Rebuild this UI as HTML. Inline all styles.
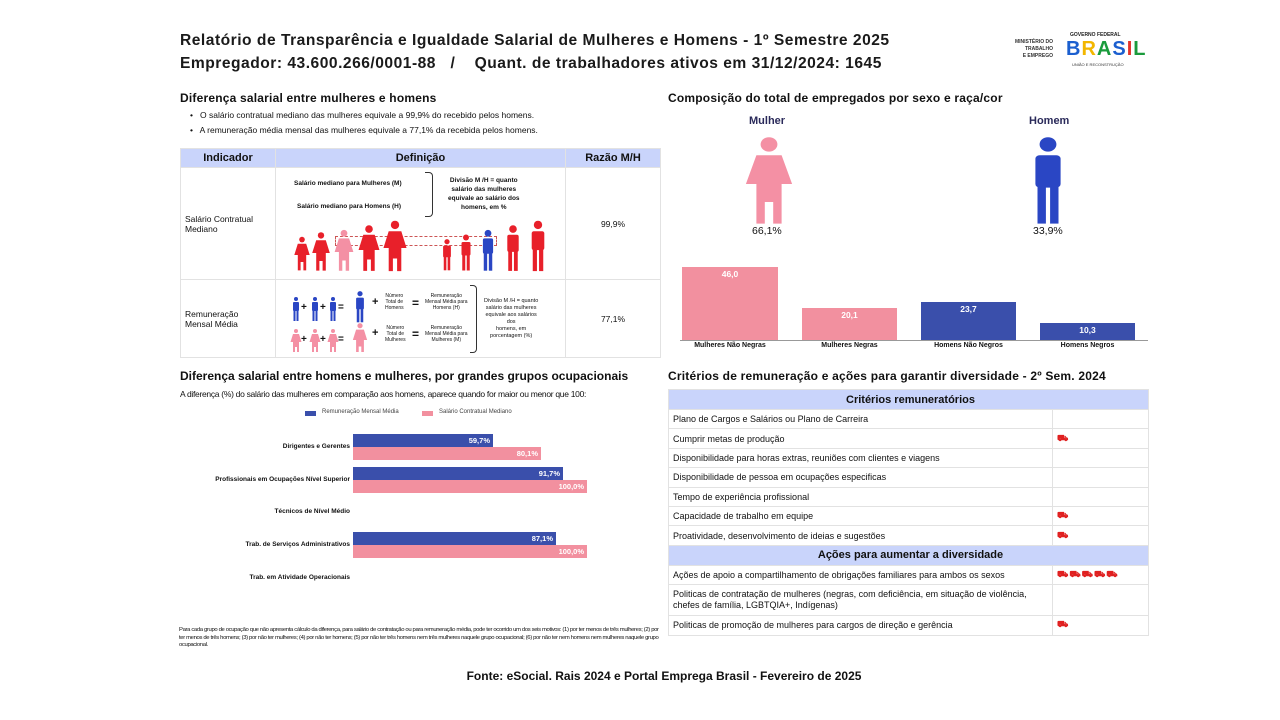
<!DOCTYPE html>
<html><head><meta charset="utf-8"><style>
*{margin:0;padding:0;box-sizing:border-box}
body{width:1280px;height:720px;background:#fff;position:relative;overflow:hidden;font-family:"Liberation Sans",sans-serif;color:#111}
.a{position:absolute;white-space:nowrap}
.t{font-weight:bold;font-size:15.6px;letter-spacing:.5px;color:#1a1a1a}
.h{font-weight:bold;font-size:12px;letter-spacing:.2px}
table{border-collapse:collapse;position:absolute}
td{border:1px solid #e2e2e2}
.ct td{font-size:9px;padding-left:4px;height:19.4px}
.hd{background:#c9d4fb;text-align:center;font-weight:bold;font-size:11px!important}
.ic{color:#e02020;font-weight:bold;font-size:9px;letter-spacing:1px}
</style></head><body>
<div class="a t" style="left:180px;top:32px">Relatório de Transparência e Igualdade Salarial de Mulheres e Homens - 1º Semestre 2025</div>
<div class="a t" style="left:180px;top:55px">Empregador: 43.600.266/0001-88 &nbsp;&nbsp;/ &nbsp;&nbsp;&nbsp;Quant. de trabalhadores ativos em 31/12/2024: 1645</div>
<div class="a" style="left:1000px;top:39px;font-size:5px;font-weight:bold;text-align:right;line-height:7px;width:53px;color:#333">MINISTÉRIO DO<br>TRABALHO<br>E EMPREGO</div>
<div class="a" style="left:1070px;top:32px;font-size:5px;font-weight:bold;color:#222">GOVERNO FEDERAL</div>
<div class="a" style="left:1066px;top:39px;font-size:20px;font-weight:900;letter-spacing:1px;line-height:20px"><span style="color:#1b5fcf">B</span><span style="color:#f2b600">R</span><span style="color:#1a9b3c">A</span><span style="color:#1b5fcf">S</span><span style="color:#e4342a">I</span><span style="color:#1a9b3c">L</span></div>
<div class="a" style="left:1072px;top:62px;font-size:4px;color:#333">UNIÃO E RECONSTRUÇÃO</div>

<div class="a h" style="left:180px;top:91px">Diferença salarial entre mulheres e homens</div>
<div class="a" style="left:190px;top:110px;font-size:8.5px">•&nbsp;&nbsp; O salário contratual mediano das mulheres equivale a 99,9% do recebido pelos homens.</div>
<div class="a" style="left:190px;top:125px;font-size:8.5px">•&nbsp;&nbsp; A remuneração média mensal das mulheres equivale a 77,1% da recebida pelos homens.</div>

<table style="left:180px;top:148px;width:481px">
<tr style="height:19px;background:#c9d4fb;font-weight:bold;font-size:11px;text-align:center"><td style="width:95px">Indicador</td><td style="width:290px">Definição</td><td>Razão M/H</td></tr>
<tr style="height:112px;font-size:8.5px"><td style="padding-left:4px">Salário Contratual<br>Mediano</td><td></td><td style="text-align:center">99,9%</td></tr>
<tr style="height:78px;font-size:8.5px"><td style="padding-left:4px">Remuneração<br>Mensal Média</td><td></td><td style="text-align:center">77,1%</td></tr>
</table>
<div class="a" style="left:294px;top:180px;font-size:6.5px;font-weight:bold">Salário mediano para Mulheres (M)</div>
<div class="a" style="left:297px;top:203px;font-size:6.5px;font-weight:bold">Salário mediano para Homens (H)</div>
<div class="a" style="left:425px;top:172px;width:8px;height:45px;border:1.5px solid #333;border-left:none;border-radius:0 4px 4px 0"></div>
<div class="a" style="left:448px;top:176px;font-size:6.5px;font-weight:bold;text-align:center;line-height:9px">Divisão M /H = quanto<br>salário das mulheres<br>equivale ao salário dos<br>homens, em %</div>
<div class="a" style="left:335px;top:236px;width:162px;height:10px;border:1px dashed #c55"></div>
<svg class="a" style="left:290px;top:218px" width="270" height="60">
<defs><g id="p"><circle cx="0" cy="-22" r="4"/><path d="M-6 -16h12l5 16h-5v22h-4v-12h-4v12h-4v-22h-5z"/></g>
<g id="m"><circle cx="0" cy="-22" r="4"/><rect x="-6" y="-16" width="12" height="18" rx="2"/><rect x="-5" y="0" width="4" height="22"/><rect x="1" y="0" width="4" height="22"/></g></defs>
<g fill="#e8202a"><use href="#p" transform="translate(12,37) scale(.7)"/><use href="#p" transform="translate(31,35) scale(.8)"/></g>
<use href="#p" fill="#f490a4" transform="translate(54,34) scale(.85)"/>
<g fill="#e8202a"><use href="#p" transform="translate(79,32) scale(.95)"/><use href="#p" transform="translate(105,30) scale(1.05)"/><use href="#m" transform="translate(157,38) scale(.65)"/><use href="#m" transform="translate(176,36) scale(.75)"/></g>
<use href="#m" fill="#2a46c4" transform="translate(198,34) scale(.85)"/>
<g fill="#e8202a"><use href="#m" transform="translate(223,32) scale(.95)"/><use href="#m" transform="translate(248,30) scale(1.05)"/></g>
</svg>
<svg class="a" style="left:288px;top:290px" width="88" height="62">
<g fill="#2a46c4"><use href="#m" transform="translate(8,20) scale(.5)"/><use href="#m" transform="translate(27,20) scale(.5)"/><use href="#m" transform="translate(45,20) scale(.5)"/><use href="#m" transform="translate(72,18) scale(.65)"/></g>
<g fill="#f490a4"><use href="#p" transform="translate(8,52) scale(.5)"/><use href="#p" transform="translate(27,52) scale(.5)"/><use href="#p" transform="translate(45,52) scale(.5)"/><use href="#p" transform="translate(72,50) scale(.65)"/></g>
<g font-size="10" font-weight="bold" fill="#111"><text x="13" y="20">+</text><text x="32" y="20">+</text><text x="50" y="20">=</text><text x="13" y="52">+</text><text x="32" y="52">+</text><text x="50" y="52">=</text></g>
</svg>
<div class="a" style="left:372px;top:296px;font-size:11px;font-weight:bold">+</div>
<div class="a" style="left:372px;top:327px;font-size:11px;font-weight:bold">+</div>
<div class="a" style="left:385px;top:293px;font-size:5px;text-align:center;line-height:6px">Número<br>Total de<br>Homens</div>
<div class="a" style="left:385px;top:325px;font-size:5px;text-align:center;line-height:6px">Número<br>Total de<br>Mulheres</div>
<div class="a" style="left:412px;top:296px;font-size:12px;font-weight:bold">=</div>
<div class="a" style="left:412px;top:327px;font-size:12px;font-weight:bold">=</div>
<div class="a" style="left:425px;top:293px;font-size:5px;text-align:center;line-height:6px">Remuneração<br>Mensal Média para<br>Homens (H)</div>
<div class="a" style="left:425px;top:325px;font-size:5px;text-align:center;line-height:6px">Remuneração<br>Mensal Média para<br>Mulheres (M)</div>
<div class="a" style="left:470px;top:285px;width:7px;height:68px;border:1.5px solid #333;border-left:none;border-radius:0 4px 4px 0"></div>
<div class="a" style="left:484px;top:298px;font-size:5.5px;text-align:center;line-height:7px">Divisão M /H = quanto<br>salário das mulheres<br>equivale aos salários<br>dos<br>homens, em<br>porcentagem (%)</div>

<div class="a h" style="left:668px;top:91px">Composição do total de empregados por sexo e raça/cor</div>
<div class="a" style="left:749px;top:115px;font-size:11px;font-weight:bold;color:#2a2a5a">Mulher</div>
<div class="a" style="left:1029px;top:115px;font-size:11px;font-weight:bold;color:#2a2a5a">Homem</div>
<svg class="a" style="left:740px;top:137px" width="60" height="90"><use href="#p" fill="#f490a4" transform="translate(29,47) scale(2.1,1.8)"/></svg>
<svg class="a" style="left:1019px;top:137px" width="60" height="90"><use href="#m" fill="#2a46c4" transform="translate(29,47) scale(2.1,1.8)"/></svg>
<div class="a" style="left:752px;top:225px;font-size:10.5px">66,1%</div>
<div class="a" style="left:1033px;top:225px;font-size:10.5px">33,9%</div>
<div class="a" style="left:680px;top:340px;width:468px;height:1px;background:#999"></div>
<div class="a" style="left:682px;top:267px;width:96px;height:73px;background:#f2909f"></div>
<div class="a" style="left:802px;top:308px;width:95px;height:32px;background:#f2909f"></div>
<div class="a" style="left:921px;top:302px;width:95px;height:38px;background:#3a4fab"></div>
<div class="a" style="left:1040px;top:323px;width:95px;height:17px;background:#3a4fab"></div>
<div class="a" style="left:682px;top:269px;width:96px;text-align:center;font-size:8.5px;font-weight:bold;color:#fff">46,0</div>
<div class="a" style="left:802px;top:310px;width:95px;text-align:center;font-size:8.5px;font-weight:bold;color:#fff">20,1</div>
<div class="a" style="left:921px;top:304px;width:95px;text-align:center;font-size:8.5px;font-weight:bold;color:#fff">23,7</div>
<div class="a" style="left:1040px;top:325px;width:95px;text-align:center;font-size:8.5px;font-weight:bold;color:#fff">10,3</div>
<div class="a" style="left:682px;top:342px;width:96px;text-align:center;font-size:7px;font-weight:bold">Mulheres Não Negras</div>
<div class="a" style="left:802px;top:342px;width:95px;text-align:center;font-size:7px;font-weight:bold">Mulheres Negras</div>
<div class="a" style="left:921px;top:342px;width:95px;text-align:center;font-size:7px;font-weight:bold">Homens Não Negros</div>
<div class="a" style="left:1040px;top:342px;width:95px;text-align:center;font-size:7px;font-weight:bold">Homens Negros</div>

<div class="a h" style="left:180px;top:369px;letter-spacing:0">Diferença salarial entre homens e mulheres, por grandes grupos ocupacionais</div>
<div class="a" style="left:180px;top:389px;font-size:8.5px;letter-spacing:-.3px">A diferença (%) do salário das mulheres em comparação aos homens, aparece quando for maior ou menor que 100:</div>
<div class="a" style="left:305px;top:411px;width:11px;height:5px;background:#3a4fab"></div>
<div class="a" style="left:322px;top:409px;font-size:6px;color:#444">Remuneração Mensal Média</div>
<div class="a" style="left:422px;top:411px;width:11px;height:5px;background:#f2909f"></div>
<div class="a" style="left:439px;top:409px;font-size:6px;color:#444">Salário Contratual Mediano</div>
<div class="a" style="left:353px;top:434px;width:140px;height:13px;background:#3a4fab"></div>
<div class="a" style="left:353px;top:447px;width:188px;height:13px;background:#f2909f"></div>
<div class="a" style="left:353px;top:467px;width:210px;height:13px;background:#3a4fab"></div>
<div class="a" style="left:353px;top:480px;width:234px;height:13px;background:#f2909f"></div>
<div class="a" style="left:353px;top:532px;width:203px;height:13px;background:#3a4fab"></div>
<div class="a" style="left:353px;top:545px;width:234px;height:13px;background:#f2909f"></div>
<div class="a" style="left:353px;top:436px;width:137px;text-align:right;font-size:7.5px;font-weight:bold;color:#fff">59,7%</div>
<div class="a" style="left:353px;top:449px;width:185px;text-align:right;font-size:7.5px;font-weight:bold;color:#fff">80,1%</div>
<div class="a" style="left:353px;top:469px;width:207px;text-align:right;font-size:7.5px;font-weight:bold;color:#fff">91,7%</div>
<div class="a" style="left:353px;top:482px;width:231px;text-align:right;font-size:7.5px;font-weight:bold;color:#fff">100,0%</div>
<div class="a" style="left:353px;top:534px;width:200px;text-align:right;font-size:7.5px;font-weight:bold;color:#fff">87,1%</div>
<div class="a" style="left:353px;top:547px;width:231px;text-align:right;font-size:7.5px;font-weight:bold;color:#fff">100,0%</div>
<div class="a" style="left:150px;width:200px;top:443px;text-align:right;font-size:6.5px;font-weight:bold">Dirigentes e Gerentes</div>
<div class="a" style="left:150px;width:200px;top:476px;text-align:right;font-size:6.5px;font-weight:bold">Profissionais em Ocupações Nível Superior</div>
<div class="a" style="left:150px;width:200px;top:508px;text-align:right;font-size:6.5px;font-weight:bold">Técnicos de Nível Médio</div>
<div class="a" style="left:150px;width:200px;top:541px;text-align:right;font-size:6.5px;font-weight:bold">Trab. de Serviços Administrativos</div>
<div class="a" style="left:150px;width:200px;top:574px;text-align:right;font-size:6.5px;font-weight:bold">Trab. em Atividade Operacionais</div>
<div class="a" style="left:179px;top:627px;width:480px;white-space:normal;font-size:5.9px;line-height:7.5px;letter-spacing:-.35px">Para cada grupo de ocupação que não apresenta cálculo da diferença, para salário de contratação ou para remuneração média, pode ter ocorrido um dos seis motivos: (1) por ter menos de três mulheres; (2) por ter menos de três homens; (3) por não ter mulheres; (4) por não ter homens; (5) por não ter três homens nem três mulheres naquele grupo ocupacional; (6) por não ter nem homens nem mulheres naquele grupo ocupacional.</div>

<div class="a h" style="left:668px;top:369px">Critérios de remuneração e ações para garantir diversidade - 2º Sem. 2024</div>
<table class="ct" style="left:668px;top:389px;width:481px">
<tr><td colspan="2" class="hd" style="height:20px">Critérios remuneratórios</td></tr>
<tr><td style="width:384px">Plano de Cargos e Salários ou Plano de Carreira</td><td></td></tr>
<tr><td>Cumprir metas de produção</td><td class="ic">⛟</td></tr>
<tr><td>Disponibilidade para horas extras, reuniões com clientes e viagens</td><td></td></tr>
<tr><td>Disponibilidade de pessoa em ocupações especificas</td><td></td></tr>
<tr><td>Tempo de experiência profissional</td><td></td></tr>
<tr><td>Capacidade de trabalho em equipe</td><td class="ic">⛟</td></tr>
<tr><td>Proatividade, desenvolvimento de ideias e sugestões</td><td class="ic">⛟</td></tr>
<tr><td colspan="2" class="hd" style="height:20px">Ações para aumentar a diversidade</td></tr>
<tr><td>Ações de apoio a compartilhamento de obrigações familiares para ambos os sexos</td><td class="ic">⛟⛟⛟⛟⛟</td></tr>
<tr><td style="height:31px;white-space:normal;line-height:11px">Politicas de contratação de mulheres (negras, com deficiência, em situação de violência, chefes de família, LGBTQIA+, Indígenas)</td><td></td></tr>
<tr><td>Politicas de promoção de mulheres para cargos de direção e gerência</td><td class="ic">⛟</td></tr>
</table>

<div class="a" style="left:0;width:1328px;top:669px;text-align:center;font-size:12px;font-weight:bold">Fonte: eSocial. Rais 2024 e Portal Emprega Brasil - Fevereiro de 2025</div>
</body></html>
